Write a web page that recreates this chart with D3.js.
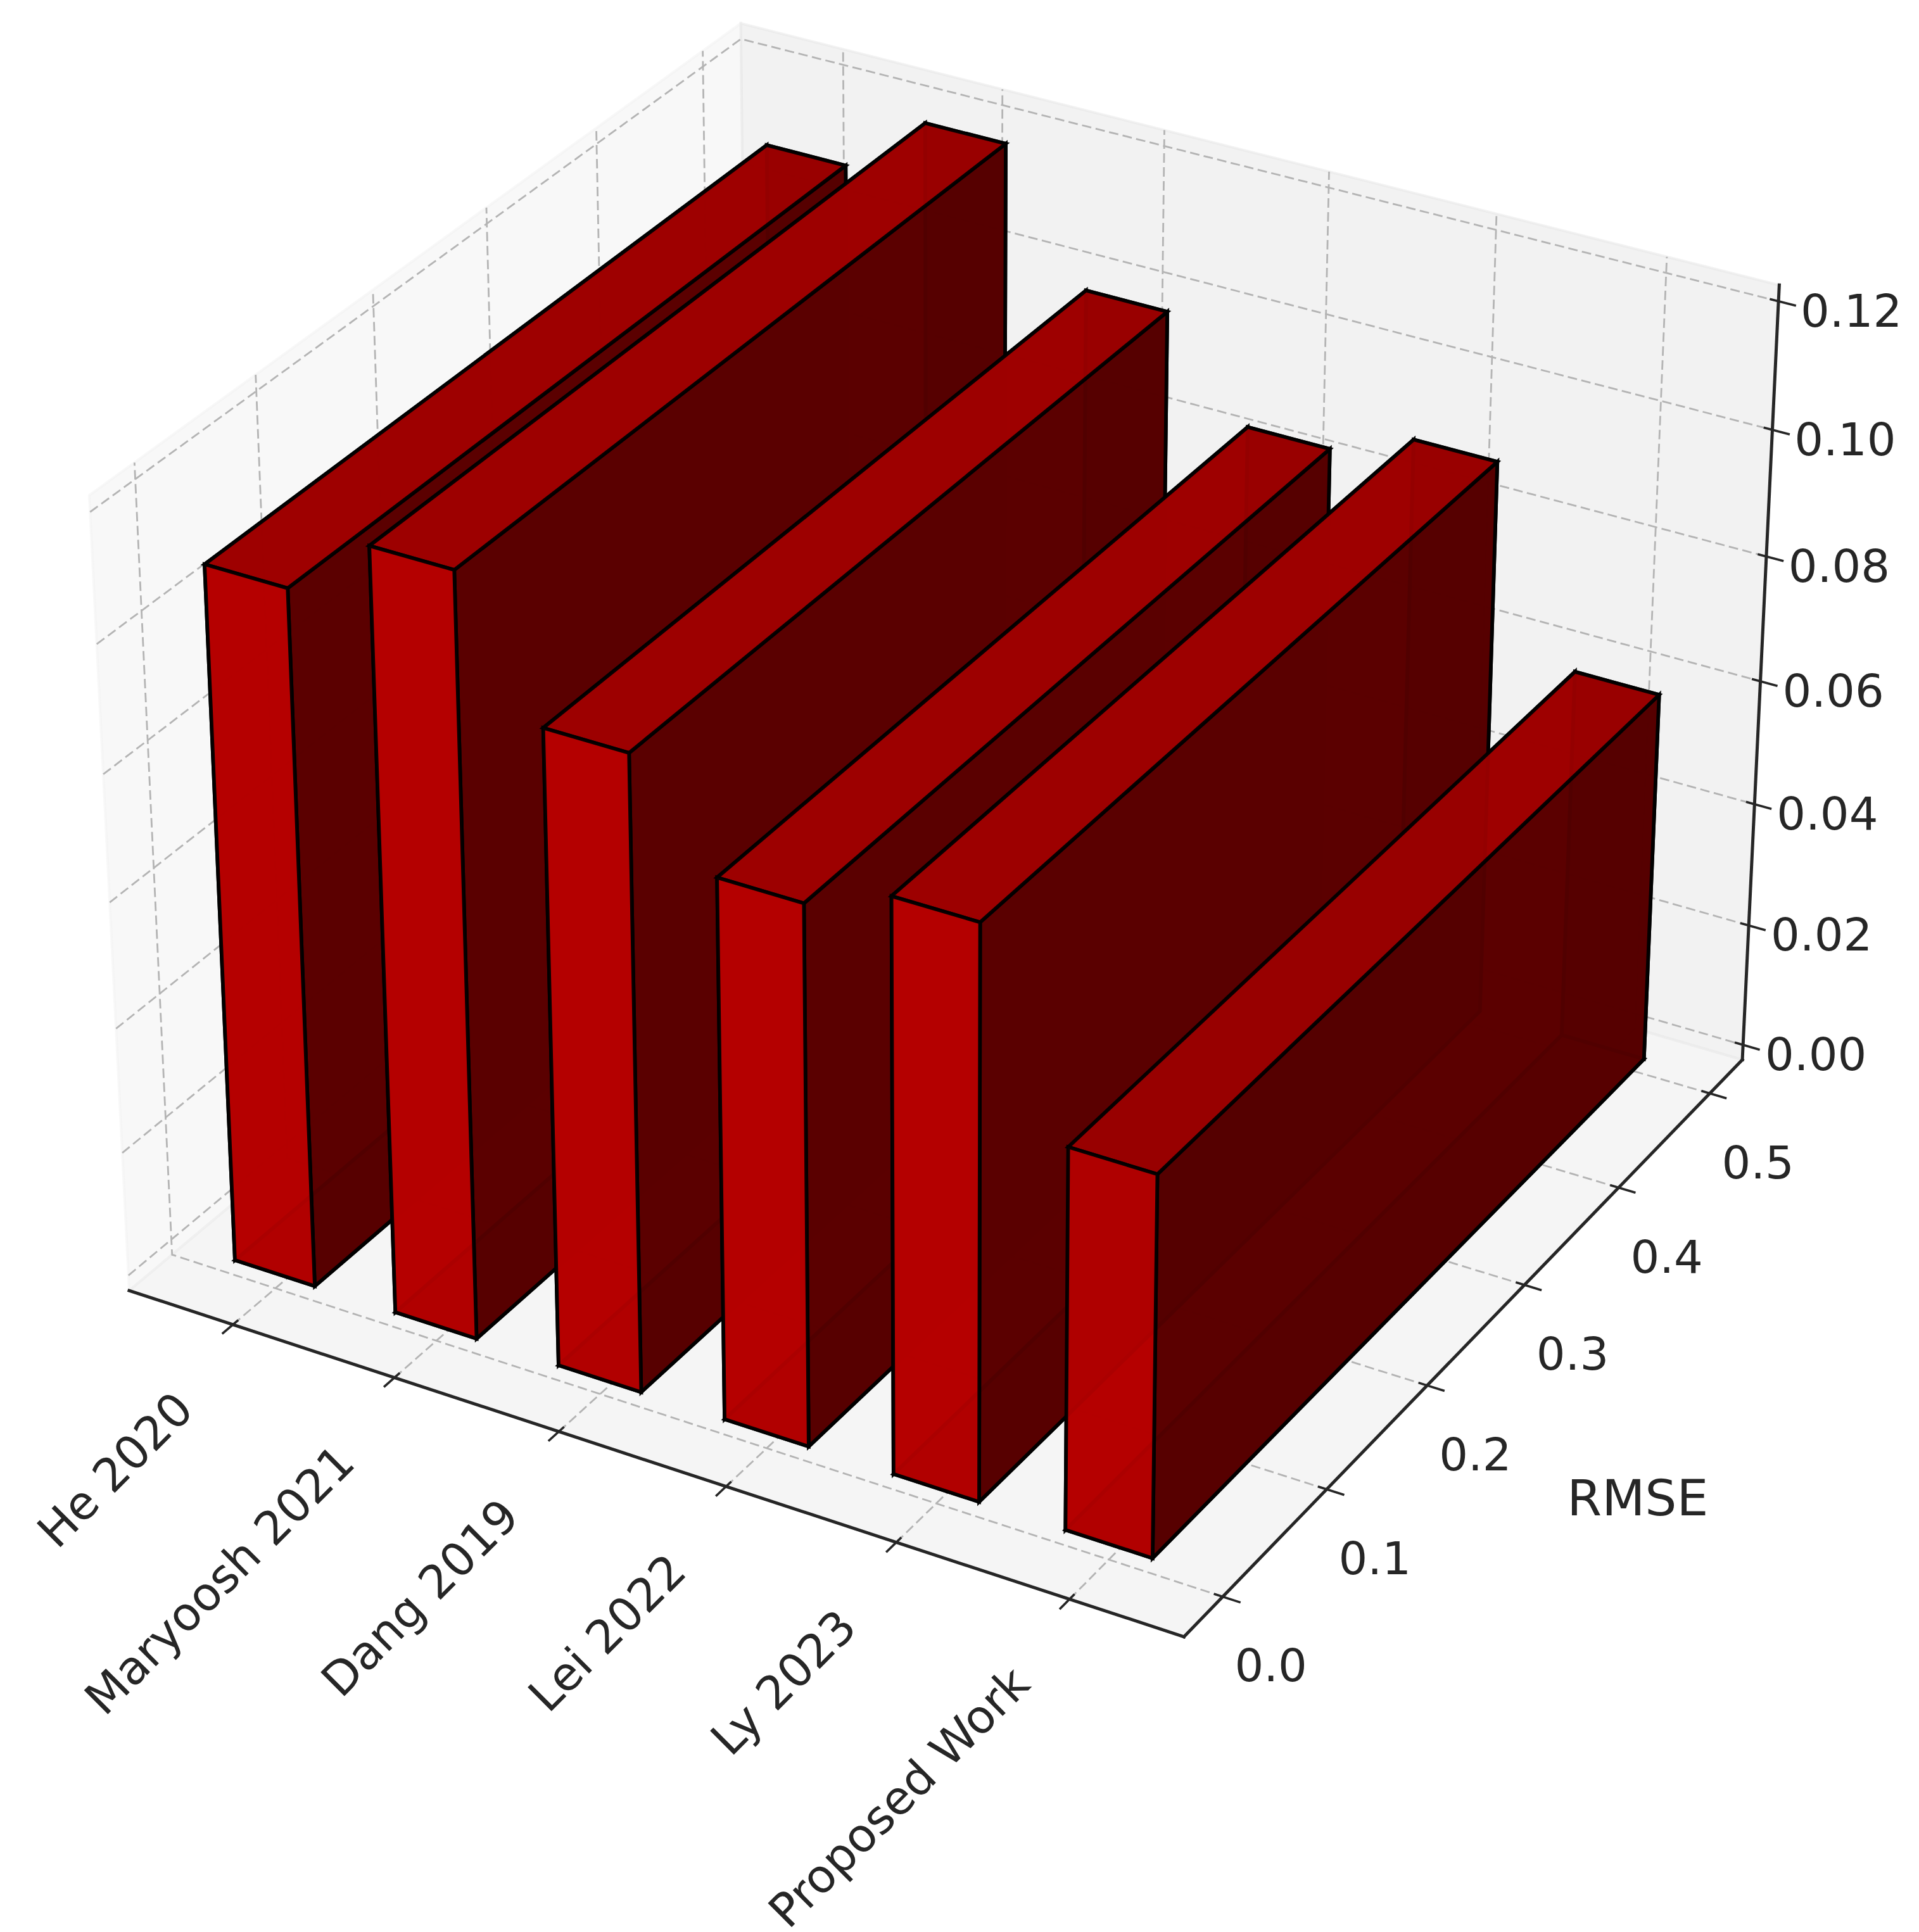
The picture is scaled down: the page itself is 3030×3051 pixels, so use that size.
<!DOCTYPE html>
<html><head><meta charset="utf-8">
<script src="https://cdn.jsdelivr.net/npm/d3@7"></script>
<style>html,body{margin:0;padding:0;background:#fff}svg{display:block}text{font-family:"DejaVu Sans";fill:#262626}</style>
</head><body><svg id="c" width="3030" height="3051"></svg>
<script>
const categories=["He 2020","Maryoosh 2021","Dang 2019","Lei 2022","Ly 2023","Proposed Work"];
const rmseValues=[0.110,0.120,0.100,0.085,0.090,0.060];
const xTicks=[0,1,2,3,4,5];
const yTicks=[0,0.1,0.2,0.3,0.4,0.5];
const zTicks=[0,0.02,0.04,0.06,0.08,0.10,0.12];
const xLim=[-0.525,5.525], yLim=[-0.025,0.525], zLim=[0,0.12];
const barX0=-0.25, barW=0.5, barY0=0, barD=0.5;
const baseRed=204, alpha=0.95;

const elev=30*Math.PI/180, azim=-60*Math.PI/180, dist=10;
const n=Math.hypot(4,4,3), k=1.8294640721620434*25/24/n;
const box=[4*k,4*k,3*k];
const sx=d3.scaleLinear().domain(xLim).range([-box[0]/2,box[0]/2]);
const sy=d3.scaleLinear().domain(yLim).range([-box[1]/2,box[1]/2]);
const sz=d3.scaleLinear().domain(zLim).range([-box[2]/2,box[2]/2]);
const w=[Math.cos(elev)*Math.cos(azim),Math.cos(elev)*Math.sin(azim),Math.sin(elev)];
const u=[-Math.sin(azim),Math.cos(azim),0];
const v=[w[1]*u[2]-w[2]*u[1],w[2]*u[0]-w[0]*u[2],w[0]*u[1]-w[1]*u[0]];
const dot=(a,b)=>a[0]*b[0]+a[1]*b[1]+a[2]*b[2];
const scaleS=1538, cx=1502, cy=1247;
function world(p){return [sx(p[0]),sy(p[1]),sz(p[2])];}
function depth(p){return dist-dot(world(p),w);}
function proj(p){const c=world(p),d=dist-dot(c,w);
  return [cx+scaleS*dot(c,u)*dist/d, cy-scaleS*dot(c,v)*dist/d];}
const pad=r=>(r[1]-r[0])/48;
const X0=xLim[0]-pad(xLim),X1=xLim[1]+pad(xLim),Y0=yLim[0]-pad(yLim),Y1=yLim[1]+pad(yLim),Z0=zLim[0]-pad(zLim),Z1=zLim[1]+pad(zLim);
const xR=xLim[1]-xLim[0],yR=yLim[1]-yLim[0];
const line=d3.line().x(d=>proj(d)[0]).y(d=>proj(d)[1]);
const closed=pts=>line(pts)+"Z";
const svg=d3.select("#c");

// panes
const panes=[
 {pts:[[X0,Y0,Z0],[X0,Y1,Z0],[X0,Y1,Z1],[X0,Y0,Z1]],f:0.95},
 {pts:[[X0,Y1,Z0],[X1,Y1,Z0],[X1,Y1,Z1],[X0,Y1,Z1]],f:0.90},
 {pts:[[X0,Y0,Z0],[X1,Y0,Z0],[X1,Y1,Z0],[X0,Y1,Z0]],f:0.925}];
svg.append("g").selectAll("path").data(panes).join("path")
 .attr("d",d=>closed(d.pts))
 .attr("fill",d=>d3.rgb(d.f*255,d.f*255,d.f*255)).attr("fill-opacity",0.5)
 .attr("stroke",d=>d3.rgb(d.f*255,d.f*255,d.f*255)).attr("stroke-opacity",0.5).attr("stroke-width",4);

// grid
const gridPaths=[
 ...xTicks.map(t=>[[t,Y0,Z0],[t,Y1,Z0],[t,Y1,Z1]]),
 ...yTicks.map(t=>[[X1,t,Z0],[X0,t,Z0],[X0,t,Z1]]),
 ...zTicks.map(t=>[[X0,Y0,t],[X0,Y1,t],[X1,Y1,t]])];
svg.append("g").selectAll("path").data(gridPaths).join("path")
 .attr("d",line).attr("fill","none").attr("stroke","#b4b4b4").attr("stroke-width",2.8)
 .attr("stroke-dasharray","15,7");

// axis lines
const axisLines=[[[X0,Y0,Z0],[X1,Y0,Z0]],[[X1,Y0,Z0],[X1,Y1,Z0]],[[X1,Y1,Z0],[X1,Y1,Z1]]];
svg.append("g").selectAll("path").data(axisLines).join("path")
 .attr("d",line).attr("fill","none").attr("stroke","#262626").attr("stroke-width",5).attr("stroke-linecap","square");

// ticks
const tickOut=0.2/12,tickIn=0.1/12;
const tickSegs=[
 ...xTicks.map(t=>[[t,Y0-tickOut*yR,Z0],[t,Y0+tickIn*yR,Z0]]),
 ...yTicks.map(t=>[[X1+tickOut*xR,t,Z0],[X1-tickIn*xR,t,Z0]]),
 ...zTicks.map(t=>[[X1+tickOut*xR,Y1,t],[X1-tickIn*xR,Y1,t]])];
svg.append("g").selectAll("path").data(tickSegs).join("path")
 .attr("d",line).attr("fill","none").attr("stroke","#262626").attr("stroke-width",3.6);

// tick labels
const tickFont=72;
svg.append("g").selectAll("text").data(xTicks).join("text")
 .text((d,i)=>categories[i]).attr("font-size",73).attr("text-anchor","end")
 .attr("transform",d=>{const p=proj([d,Y0,Z0]);return `translate(${p[0]-59},${p[1]+138}) rotate(-45)`;});
svg.append("g").selectAll("text").data(yTicks).join("text")
 .text(d=>d3.format(".1f")(d)).attr("font-size",tickFont).attr("text-anchor","middle").attr("dominant-baseline","central")
 .attr("x",d=>proj([X1,d,Z0])[0]+76).attr("y",d=>proj([X1,d,Z0])[1]+109);
svg.append("g").selectAll("text").data(zTicks).join("text")
 .text(d=>d3.format(".2f")(d)).attr("font-size",tickFont).attr("text-anchor","middle").attr("dominant-baseline","central")
 .attr("x",d=>proj([X1,Y1,d])[0]+115).attr("y",d=>proj([X1,Y1,d])[1]+15);
// axis label
const mid=proj([X1,(Y0+Y1)/2,Z0]);
svg.append("text").text("RMSE").attr("font-size",79).attr("text-anchor","middle").attr("dominant-baseline","central")
 .attr("x",mid[0]+255).attr("y",mid[1]+258);

// bars: six shaded faces each, painted far to near
const lightShade={front:0.883,left:0.883,top:0.767,bottom:0.533,right:0.417,back:0.417};
const faces=[];
rmseValues.forEach((h,i)=>{
 const a=i+barX0,b=a+barW,c=barY0,e=c+barD;
 const quads={
  bottom:[[a,c,0],[b,c,0],[b,e,0],[a,e,0]],
  top:[[a,c,h],[b,c,h],[b,e,h],[a,e,h]],
  front:[[a,c,0],[b,c,0],[b,c,h],[a,c,h]],
  back:[[a,e,0],[b,e,0],[b,e,h],[a,e,h]],
  left:[[a,c,0],[a,e,0],[a,e,h],[a,c,h]],
  right:[[b,c,0],[b,e,0],[b,e,h],[b,c,h]]};
 Object.keys(quads).forEach(key=>faces.push({pts:quads[key],key,
   z:d3.mean(quads[key],p=>-dist/depth(p))}));
});
faces.sort((p,q)=>d3.descending(p.z,q.z));
svg.append("g").selectAll("path").data(faces).join("path")
 .attr("d",d=>closed(d.pts))
 .attr("fill",d=>d3.rgb(baseRed*lightShade[d.key],0,0)).attr("fill-opacity",alpha)
 .attr("stroke","#000").attr("stroke-opacity",alpha).attr("stroke-width",5.8).attr("stroke-linejoin","miter");
</script></body></html>
